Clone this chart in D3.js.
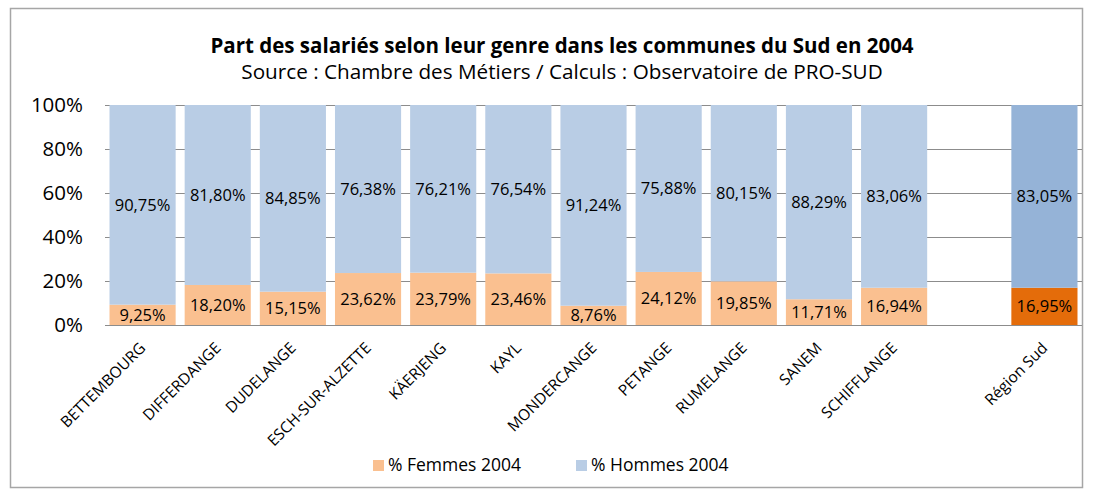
<!DOCTYPE html>
<html>
<head>
<meta charset="utf-8">
<script src="https://cdn.jsdelivr.net/npm/d3@7"></script>
<style>
  body { margin: 0; background: #fff; }
  svg text { font-family: "Open Sans", "Noto Sans", sans-serif; fill: #000; }
</style>
</head>
<body>
<div id="chart"></div>
<script>
const communes = ["BETTEMBOURG", "DIFFERDANGE", "DUDELANGE", "ESCH-SUR-ALZETTE", "KÄERJENG", "KAYL",
  "MONDERCANGE", "PETANGE", "RUMELANGE", "SANEM", "SCHIFFLANGE", "", "Région Sud"]
const femmes = [9.25, 18.20, 15.15, 23.62, 23.79, 23.46, 8.76, 24.12, 19.85, 11.71, 16.94, null, 16.95]
const hommes = [90.75, 81.80, 84.85, 76.38, 76.21, 76.54, 91.24, 75.88, 80.15, 88.29, 83.06, null, 83.05]
const yTicks = [0, 20, 40, 60, 80, 100]

const width = 1093, height = 497
const margin = { top: 105, right: 11, bottom: 172, left: 105 }

const svg = d3.select('#chart').append('svg')
  .attr('width', width)
  .attr('height', height)

// frame
svg.append('rect')
  .attr('x', 10.5).attr('y', 8.5)
  .attr('width', 1072).attr('height', 479)
  .attr('fill', '#fff')
  .attr('stroke', '#a6a6a6')
  .attr('stroke-width', 1.5)

svg.append('text')
  .attr('x', 562).attr('y', 53)
  .attr('text-anchor', 'middle')
  .style('font-size', '20.5px').style('font-weight', 'bold')
  .text('Part des salariés selon leur genre dans les communes du Sud en 2004')

svg.append('text')
  .attr('x', 562).attr('y', 79)
  .attr('text-anchor', 'middle')
  .style('font-size', '20.7px')
  .text('Source : Chambre des Métiers / Calculs : Observatoire de PRO-SUD')

const x = d3.scaleBand()
  .domain(communes.map((d, i) => i))
  .range([margin.left, width - margin.right])
  .paddingInner(0.12).paddingOuter(0.06)

const y = d3.scaleLinear().domain([0, 100]).range([height - margin.bottom, margin.top])

// gridlines
svg.append('g')
  .selectAll('line')
  .data(yTicks)
  .join('line')
  .attr('x1', margin.left).attr('x2', width - margin.right)
  .attr('y1', d => Math.round(y(d)) + 0.5).attr('y2', d => Math.round(y(d)) + 0.5)
  .attr('stroke', '#8c8c8c')

svg.append('g')
  .selectAll('text')
  .data(yTicks)
  .join('text')
  .attr('x', 83)
  .attr('y', d => y(d) + 7)
  .attr('text-anchor', 'end')
  .style('font-size', '20.5px')
  .text(d => d + '%')

const fmt = v => v.toFixed(2).replace('.', ',') + '%'
const isSud = i => communes[i] === 'Région Sud'
const rows = communes.map((c, i) => ({ i, c, f: femmes[i], h: hommes[i] })).filter(d => d.f !== null)

const bars = svg.append('g')
bars.selectAll('.f')
  .data(rows)
  .join('rect')
  .attr('x', d => x(d.i))
  .attr('width', x.bandwidth())
  .attr('y', d => y(d.f))
  .attr('height', d => y(0) - y(d.f))
  .attr('fill', d => isSud(d.i) ? '#e46c0a' : '#fac090')

bars.selectAll('.h')
  .data(rows)
  .join('rect')
  .attr('x', d => x(d.i))
  .attr('width', x.bandwidth())
  .attr('y', d => y(d.f + d.h))
  .attr('height', d => y(d.f) - y(d.f + d.h))
  .attr('fill', d => isSud(d.i) ? '#95b3d7' : '#b9cde5')

// baseline
svg.append('line')
  .attr('x1', margin.left).attr('x2', width - margin.right)
  .attr('y1', Math.round(y(0)) + 0.5).attr('y2', Math.round(y(0)) + 0.5)
  .attr('stroke', '#8c8c8c')

const labels = svg.append('g').style('font-size', '16.5px')
labels.selectAll('.lf')
  .data(rows)
  .join('text')
  .attr('x', d => x(d.i) + x.bandwidth() / 2)
  .attr('y', d => y(d.f / 2) + 6)
  .attr('text-anchor', 'middle')
  .text(d => fmt(d.f))

labels.selectAll('.lh')
  .data(rows)
  .join('text')
  .attr('x', d => x(d.i) + x.bandwidth() / 2)
  .attr('y', d => y(d.f + d.h / 2) + 6)
  .attr('text-anchor', 'middle')
  .text(d => fmt(d.h))

// category labels
svg.append('g')
  .selectAll('text')
  .data(communes.map((c, i) => ({ c, i })).filter(d => d.c))
  .join('text')
  .attr('transform', d => `translate(${x(d.i) + x.bandwidth() / 2 + 4},${y(0) + 24}) rotate(-45)`)
  .attr('text-anchor', 'end')
  .style('font-size', '15.5px')
  .text(d => d.c)

// legend
const legend = [
  { name: '% Femmes 2004', color: '#fac090', x: 373 },
  { name: '% Hommes 2004', color: '#b9cde5', x: 576 }
]
const lg = svg.append('g').selectAll('g').data(legend).join('g')
  .attr('transform', d => `translate(${d.x},460)`)
lg.append('rect').attr('width', 11).attr('height', 11).attr('fill', d => d.color)
lg.append('text').attr('x', 15).attr('y', 11).style('font-size', '17.5px').text(d => d.name)
</script>
</body>
</html>
